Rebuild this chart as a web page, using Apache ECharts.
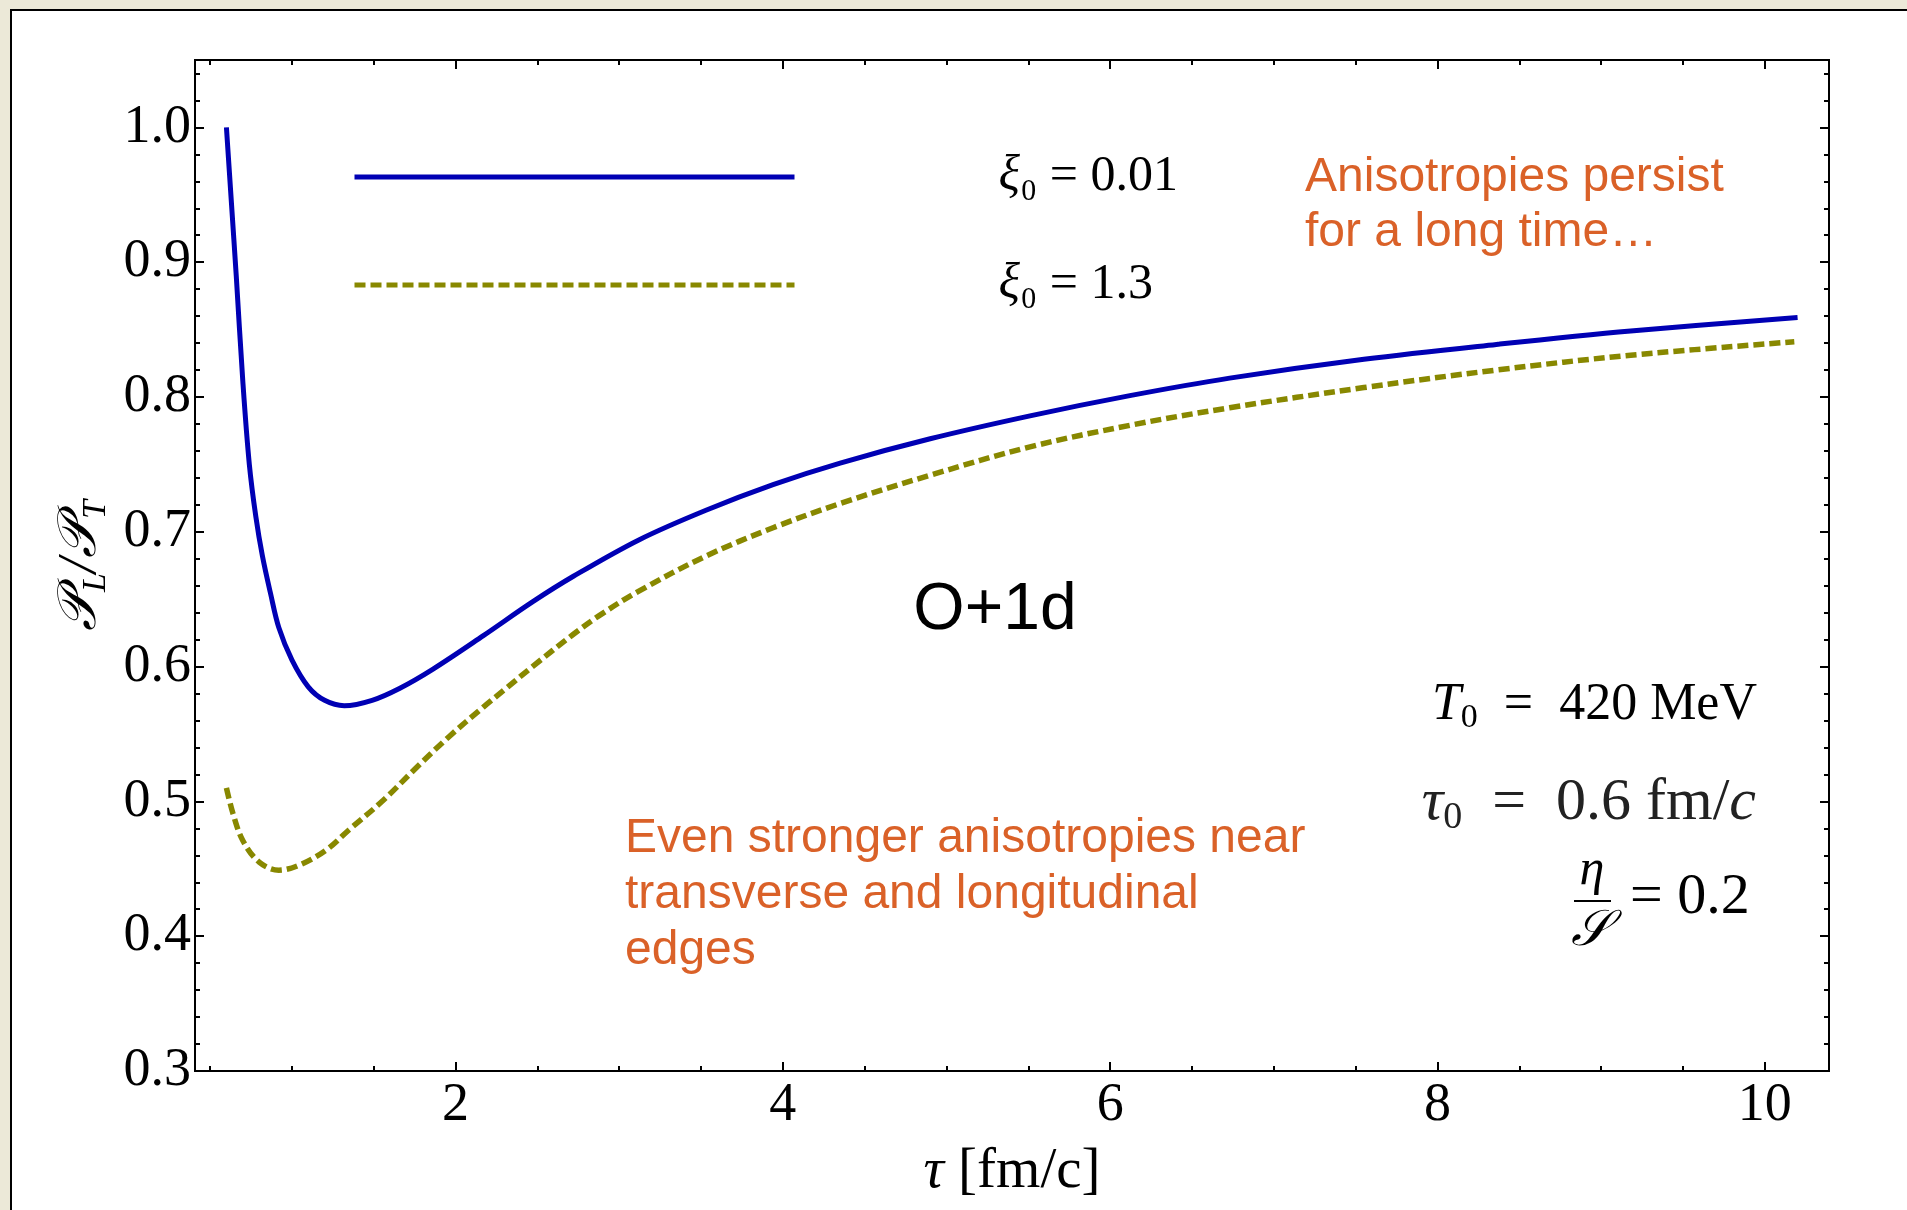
<!DOCTYPE html>
<html>
<head>
<meta charset="utf-8">
<title>PL/PT vs tau</title>
<script src="https://cdn.jsdelivr.net/npm/echarts@6/dist/echarts.min.js"></script>
<style>
  body { margin: 0; background: #ece9d8; }
  #panel { position: absolute; left: 10px; top: 9px; right: 0; bottom: 0; background: #fff;
           border-left: 2px solid #000; border-top: 2px solid #000; }
  #main { position: absolute; left: 0; top: 0; width: 1907px; height: 1210px; }
</style>
</head>
<body>
<div id="panel"></div>
<div id="main"></div>
<script>
// xi0 = 0.01 (solid blue)
var tauA   = [0.60, 0.63, 0.66, 0.70, 0.74, 0.78, 0.82, 0.87, 0.92, 1.00, 1.10, 1.20, 1.32, 1.49, 1.66, 1.86,
              2.17, 2.47, 2.72, 3.12, 3.53, 3.94, 4.35, 4.90, 5.51, 6.12, 6.73, 7.55, 8.36, 9.18, 10.20];
var ratioA = [1.000, 0.945, 0.890, 0.812, 0.750, 0.711, 0.682, 0.654, 0.629, 0.605, 0.585, 0.575, 0.571, 0.575, 0.584, 0.598,
              0.623, 0.648, 0.667, 0.694, 0.716, 0.735, 0.751, 0.769, 0.786, 0.801, 0.814, 0.828, 0.839, 0.849, 0.859];
// xi0 = 1.3 (dashed olive)
var tauB   = [0.60, 0.64, 0.70, 0.80, 0.92, 1.05, 1.21, 1.35, 1.56, 1.76, 1.96, 2.17, 2.31, 2.47, 2.72, 2.88,
              3.12, 3.53, 3.94, 4.35, 4.90, 5.51, 6.12, 6.73, 7.55, 8.36, 9.18, 10.18];
var ratioB = [0.510, 0.491, 0.471, 0.455, 0.449, 0.453, 0.464, 0.479, 0.501, 0.525, 0.548, 0.570, 0.584, 0.600, 0.624, 0.638,
              0.656, 0.682, 0.703, 0.721, 0.742, 0.763, 0.779, 0.792, 0.807, 0.820, 0.831, 0.841];

var xLabels = [2, 4, 6, 8, 10];
var yLabels = [0.3, 0.4, 0.5, 0.6, 0.7, 0.8, 0.9, 1.0];
var seriesNames = ['ξ₀ = 0.01', 'ξ₀ = 1.3'];

var xMin = 0.408, xMax = 10.392, yMin = 0.3, yMax = 1.05;

// minor ticks: every 0.5 on x, every 0.02 on y
var xMinor = [];
for (var i = 1; i <= 20; i++) xMinor.push(i * 0.5);
var yMinor = [];
for (var k = 15; k <= 52; k++) yMinor.push(Math.round(k * 2) / 100);

var serif = 'Liberation Serif';
var sans = 'Liberation Sans';

function pairs(xs, ys) {
    return xs.map(function (x, i) { return [x, ys[i]]; });
}

function xFrame(pos, ticks, len, withLabels) {
    return {
        type: 'value', gridIndex: 0, position: pos, min: xMin, max: xMax,
        splitLine: { show: false },
        axisLine: { show: true, onZero: false, lineStyle: { color: '#000', width: 2 } },
        axisTick: { show: true, inside: true, length: len, customValues: ticks, lineStyle: { color: '#000', width: 2 } },
        axisLabel: withLabels ? { show: true, customValues: xLabels, margin: 8, fontFamily: serif, fontSize: 54, color: '#000' }
                              : { show: false }
    };
}

function yFrame(pos, ticks, len, withLabels) {
    return {
        type: 'value', gridIndex: 0, position: pos, min: yMin, max: yMax,
        splitLine: { show: false },
        axisLine: { show: true, onZero: false, lineStyle: { color: '#000', width: 2 } },
        axisTick: { show: true, inside: true, length: len, customValues: ticks, lineStyle: { color: '#000', width: 2 } },
        axisLabel: withLabels ? { show: true, customValues: yLabels, margin: 4, fontFamily: serif, fontSize: 54, color: '#000',
                                  formatter: function (v) { return v.toFixed(1); } }
                              : { show: false }
    };
}

var xMain = xFrame('bottom', xLabels, 9, true);
xMain.name = '{i|τ}{n| [fm/c]}';
xMain.nameLocation = 'middle';
xMain.nameGap = 73;
xMain.nameTextStyle = {
    rich: {
        i: { fontFamily: serif, fontStyle: 'italic', fontSize: 57, color: '#000' },
        n: { fontFamily: serif, fontSize: 57, color: '#000' }
    }
};

var yMain = yFrame('left', yLabels, 9, true);
yMain.name = '{p|𝒫}{s|L}{p|/𝒫}{s|T}';
yMain.nameLocation = 'middle';
yMain.nameGap = 82;
yMain.nameTextStyle = {
    rich: {
        p: { fontFamily: serif, fontStyle: 'italic', fontSize: 54, lineHeight: 64, color: '#000' },
        s: { fontFamily: serif, fontStyle: 'italic', fontSize: 34, lineHeight: 34, verticalAlign: 'bottom', color: '#000' }
    }
};

var chart = echarts.init(document.getElementById('main'));

var option = {
    animation: false,
    grid: { left: 195, top: 60, right: 78, bottom: 139 },
    xAxis: [xFrame('bottom', xMinor, 5, false), xMain, xFrame('top', xMinor, 5, false), xFrame('top', xLabels, 9, false)],
    yAxis: [yFrame('left', yMinor, 5, false), yMain, yFrame('right', yMinor, 5, false), yFrame('right', yLabels, 9, false)],
    legend: {
        data: seriesNames,
        orient: 'vertical',
        left: 347, top: 147,
        itemWidth: 440, itemHeight: 20, itemGap: 58,
        selectedMode: false,
        itemStyle: { opacity: 0 },
        lineStyle: { width: 5 },
        formatter: function (n) { return '{g|}{i|ξ}{t|' + n.slice(1) + '}'; },
        textStyle: {
            rich: {
                g: { width: 199 },
                i: { fontFamily: serif, fontStyle: 'italic', fontSize: 50, color: '#000' },
                t: { fontFamily: serif, fontSize: 50, color: '#000' }
            }
        }
    },
    series: [
        {
            type: 'line', name: seriesNames[0], xAxisIndex: 1, yAxisIndex: 1,
            data: pairs(tauA, ratioA), symbol: 'none', smooth: 0.35,
            lineStyle: { color: '#0000b4', width: 5 }, itemStyle: { color: '#0000b4' }
        },
        {
            type: 'line', name: seriesNames[1], xAxisIndex: 1, yAxisIndex: 1,
            data: pairs(tauB, ratioB), symbol: 'none', smooth: 0.35,
            lineStyle: { color: '#888800', width: 5.5, type: [11, 5], cap: 'butt' }, itemStyle: { color: '#888800' }
        }
    ],
    graphic: [
        { type: 'text', x: 1305, y: 150, style: {
            text: 'Anisotropies persist\nfor a long time…', fill: '#da6128',
            fontFamily: sans, fontSize: 48, lineHeight: 55, align: 'left', verticalAlign: 'top' } },
        { type: 'text', x: 625, y: 811, style: {
            text: 'Even stronger anisotropies near\ntransverse and longitudinal\nedges', fill: '#da6128',
            fontFamily: sans, fontSize: 48, lineHeight: 56, align: 'left', verticalAlign: 'top' } },
        { type: 'text', x: 995, y: 611, style: {
            text: 'O+1d', fill: '#000', fontFamily: sans, fontSize: 66, align: 'center', verticalAlign: 'middle' } },
        { type: 'text', x: 1757, y: 705, style: {
            text: '{i|T}{s|0}{n|\u2002=\u2002420 MeV}', align: 'right', verticalAlign: 'middle',
            rich: {
                i: { fontFamily: serif, fontStyle: 'italic', fontSize: 52, lineHeight: 60, fill: '#000' },
                s: { fontFamily: serif, fontSize: 34, lineHeight: 34, verticalAlign: 'bottom', fill: '#000' },
                n: { fontFamily: serif, fontSize: 52, lineHeight: 60, fill: '#000' }
            } } },
        { type: 'text', x: 1756, y: 803, style: {
            text: '{i|τ}{s|0}{n|\u2002=\u20020.6 fm/}{i|c}', align: 'right', verticalAlign: 'middle',
            rich: {
                i: { fontFamily: serif, fontStyle: 'italic', fontSize: 60, lineHeight: 68, fill: '#222' },
                s: { fontFamily: serif, fontSize: 38, lineHeight: 38, verticalAlign: 'bottom', fill: '#222' },
                n: { fontFamily: serif, fontSize: 60, lineHeight: 68, fill: '#222' }
            } } },
        { type: 'text', x: 1592, y: 871, style: {
            text: 'η', fill: '#000', fontFamily: serif, fontStyle: 'italic', fontSize: 50, align: 'center', verticalAlign: 'middle' } },
        { type: 'line', shape: { x1: 1574, y1: 901, x2: 1611, y2: 901 }, style: { stroke: '#000', lineWidth: 2 } },
        { type: 'text', x: 1590, y: 932, style: {
            text: '𝒮', fill: '#000', fontFamily: serif, fontStyle: 'italic', fontSize: 50, align: 'center', verticalAlign: 'middle' } },
        { type: 'text', x: 1630, y: 898, style: {
            text: '= 0.2', fill: '#000', fontFamily: serif, fontSize: 58, align: 'left', verticalAlign: 'middle' } }
    ]
};

chart.setOption(option);
</script>
</body>
</html>
